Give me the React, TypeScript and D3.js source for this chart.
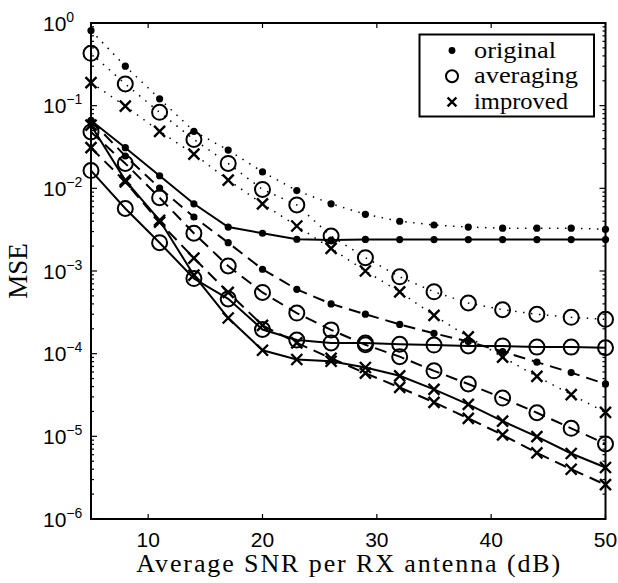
import React, { useEffect, useRef } from "react";
import * as d3 from "d3";

// SNR grid (dB)
const snr = [5, 8, 11, 14, 17, 20, 23, 26, 29, 32, 35, 38, 41, 44, 47, 50];

// dotted curves
const originalDotted = [0.81, 0.3, 0.121, 0.049, 0.029, 0.0158, 0.0094, 0.0065, 0.00485, 0.004, 0.0036, 0.0034, 0.0033, 0.0033, 0.0033, 0.0032];
const averagingDotted = [0.43, 0.183, 0.083, 0.039, 0.02, 0.0097, 0.0063, 0.00265, 0.00145, 0.00085, 0.00056, 0.00041, 0.00034, 0.0003, 0.000275, 0.00026];
const improvedDotted = [0.19, 0.099, 0.049, 0.026, 0.0126, 0.0065, 0.0035, 0.00188, 0.001, 0.00056, 0.00029, 0.00016, 9.1e-5, 5.3e-5, 3.2e-5, 1.95e-5];

// solid curves
const originalSolid = [0.066, 0.031, 0.0142, 0.0065, 0.0034, 0.00286, 0.00242, 0.00237, 0.00241, 0.0024, 0.0024, 0.0024, 0.0024, 0.0024, 0.0024, 0.0024];
const averagingSolid = [0.0164, 0.0057, 0.0022, 0.00081, 0.00046, 0.000196, 0.000146, 0.000135, 0.000135, 0.00013, 0.000127, 0.000124, 0.000124, 0.00012, 0.00012, 0.000118];
const improvedSolid = [0.058, 0.0125, 0.0041, 0.00089, 0.00027, 0.00011, 8.5e-5, 8.1e-5, 6.8e-5, 5.4e-5, 3.7e-5, 2.44e-5, 1.53e-5, 9.9e-6, 6.2e-6, 4.2e-6];

// dashed curves
const originalDashed = [0.066, 0.0246, 0.0101, 0.0045, 0.0022, 0.00105, 0.0006, 0.0004, 0.0003, 0.000226, 0.000176, 0.00014, 0.000106, 7.9e-5, 5.9e-5, 4.3e-5];
const averagingDashed = [0.048, 0.02, 0.0077, 0.00286, 0.00115, 0.00055, 0.00031, 0.000194, 0.000128, 9.2e-5, 6.2e-5, 4.3e-5, 2.9e-5, 1.93e-5, 1.25e-5, 8.1e-6];
const improvedDashed = [0.031, 0.012, 0.0039, 0.00143, 0.00055, 0.00022, 0.000135, 8.8e-5, 5.8e-5, 3.9e-5, 2.58e-5, 1.65e-5, 1.04e-5, 6.3e-6, 4.0e-6, 2.6e-6];

const xTicks = [10, 20, 30, 40, 50];
const yExponents = [0, -1, -2, -3, -4, -5, -6];
const legendLabels = ["original", "averaging", "improved"];

const App = () => {
  const ref = useRef<SVGSVGElement>(null);

  useEffect(() => {
    const svg = d3.select(ref.current);
    svg.selectAll("*").remove();

    const left = 91, right = 605.5, top = 23, bottom = 519;
    const x = d3.scaleLinear().domain([5, 50]).range([left, right]);
    const y = d3.scaleLog().domain([1e-6, 1]).range([bottom, top]);

    const serif = "'Liberation Serif', 'Times New Roman', serif";
    const sans = "'Liberation Sans', Arial, Helvetica, sans-serif";

    // ticks (inward, on all four sides)
    const ticks = svg.append("g").attr("stroke", "#000").attr("stroke-width", 1.2);
    xTicks.forEach((t) => {
      ticks.append("line").attr("x1", x(t)).attr("x2", x(t)).attr("y1", bottom).attr("y2", bottom - 5);
      ticks.append("line").attr("x1", x(t)).attr("x2", x(t)).attr("y1", top).attr("y2", top + 5);
    });
    yExponents.forEach((e) => {
      const v = Math.pow(10, e);
      ticks.append("line").attr("x1", left).attr("x2", left + 6).attr("y1", y(v)).attr("y2", y(v));
      ticks.append("line").attr("x1", right).attr("x2", right - 6).attr("y1", y(v)).attr("y2", y(v));
      if (e > -6) {
        // minor ticks 2..9 of the decade below
        for (let k = 2; k <= 9; k++) {
          const mv = (v * k) / 10;
          ticks.append("line").attr("x1", left).attr("x2", left + 3).attr("y1", y(mv)).attr("y2", y(mv));
          ticks.append("line").attr("x1", right).attr("x2", right - 3).attr("y1", y(mv)).attr("y2", y(mv));
        }
      }
    });

    // curves
    const series = [
      { values: originalDotted, marker: "dot", dash: "1.5,6.5", width: 1.5 },
      { values: averagingDotted, marker: "circle", dash: "1.5,6.5", width: 1.5 },
      { values: improvedDotted, marker: "x", dash: "1.5,6.5", width: 1.5 },
      { values: originalSolid, marker: "dot", dash: null, width: 2 },
      { values: averagingSolid, marker: "circle", dash: null, width: 2 },
      { values: improvedSolid, marker: "x", dash: null, width: 2 },
      { values: originalDashed, marker: "dot", dash: "12,7", width: 2 },
      { values: averagingDashed, marker: "circle", dash: "12,7", width: 2 },
      { values: improvedDashed, marker: "x", dash: "12,7", width: 2 },
    ];

    const line = d3
      .line<number>()
      .x((d, i) => x(snr[i]))
      .y((d) => y(d));

    const drawMarker = (g: any, type: string, cx: number, cy: number, s: number) => {
      if (type === "dot") {
        g.append("circle").attr("cx", cx).attr("cy", cy).attr("r", 3.6 * s).attr("fill", "#000");
      } else if (type === "circle") {
        g.append("circle").attr("cx", cx).attr("cy", cy).attr("r", 7.5 * s)
          .attr("fill", "none").attr("stroke", "#000").attr("stroke-width", 2);
      } else {
        const h = 5.5 * s;
        g.append("path")
          .attr("d", `M${cx - h},${cy - h}L${cx + h},${cy + h}M${cx - h},${cy + h}L${cx + h},${cy - h}`)
          .attr("stroke", "#000").attr("stroke-width", 2.4).attr("fill", "none");
      }
    };

    series.forEach((s) => {
      const p = svg.append("path")
        .datum(s.values)
        .attr("d", line)
        .attr("fill", "none")
        .attr("stroke", "#000")
        .attr("stroke-width", s.width);
      if (s.dash) p.attr("stroke-dasharray", s.dash);
      const g = svg.append("g");
      s.values.forEach((v, i) => drawMarker(g, s.marker, x(snr[i]), y(v), 1));
    });

    // axes box
    svg.append("rect")
      .attr("x", left).attr("y", top)
      .attr("width", right - left).attr("height", bottom - top)
      .attr("fill", "none").attr("stroke", "#000").attr("stroke-width", 2);

    // tick labels
    xTicks.forEach((t) => {
      svg.append("text")
        .attr("x", x(t)).attr("y", 547)
        .attr("text-anchor", "middle")
        .attr("font-family", sans).attr("font-size", 21)
        .text(t);
    });
    yExponents.forEach((e) => {
      const tx = svg.append("text")
        .attr("x", 43).attr("y", y(Math.pow(10, e)) + 7.5)
        .attr("font-family", sans).attr("font-size", 21);
      tx.append("tspan").text("10");
      tx.append("tspan").attr("dy", -9).attr("font-size", 14).text(e === 0 ? "0" : "\u2212" + Math.abs(e));
    });

    // axis titles
    svg.append("text")
      .attr("x", (left + right) / 2).attr("y", 572)
      .attr("text-anchor", "middle")
      .attr("font-family", serif).attr("font-size", 26)
      .attr("textLength", 424).attr("lengthAdjust", "spacing")
      .text("Average SNR per RX antenna (dB)");
    svg.append("text")
      .attr("transform", `translate(27,${(top + bottom) / 2}) rotate(-90)`)
      .attr("text-anchor", "middle")
      .attr("font-family", serif).attr("font-size", 27)
      .text("MSE");

    // legend
    const lg = svg.append("g");
    lg.append("rect")
      .attr("x", 419.5).attr("y", 34.5).attr("width", 174.5).attr("height", 82)
      .attr("fill", "#fff").attr("stroke", "#000").attr("stroke-width", 2);
    const legendMarkers = ["dot", "circle", "x"];
    legendLabels.forEach((lab, i) => {
      const cy = 50.5 + i * 25.7;
      drawMarker(lg, legendMarkers[i], 452, cy, legendMarkers[i] === "dot" ? 0.95 : 0.8);
      lg.append("text")
        .attr("x", 474).attr("y", cy + 7)
        .attr("font-family", serif).attr("font-size", 23)
        .attr("textLength", lab === "averaging" ? 104 : lab === "original" ? 82 : 94)
        .attr("lengthAdjust", "spacingAndGlyphs")
        .text(lab);
    });
  }, []);

  return (
    <svg
      ref={ref}
      width={618}
      height={583}
      style={{ position: "absolute", left: 0, top: 0, background: "#fff" }}
    />
  );
};

export default App;
